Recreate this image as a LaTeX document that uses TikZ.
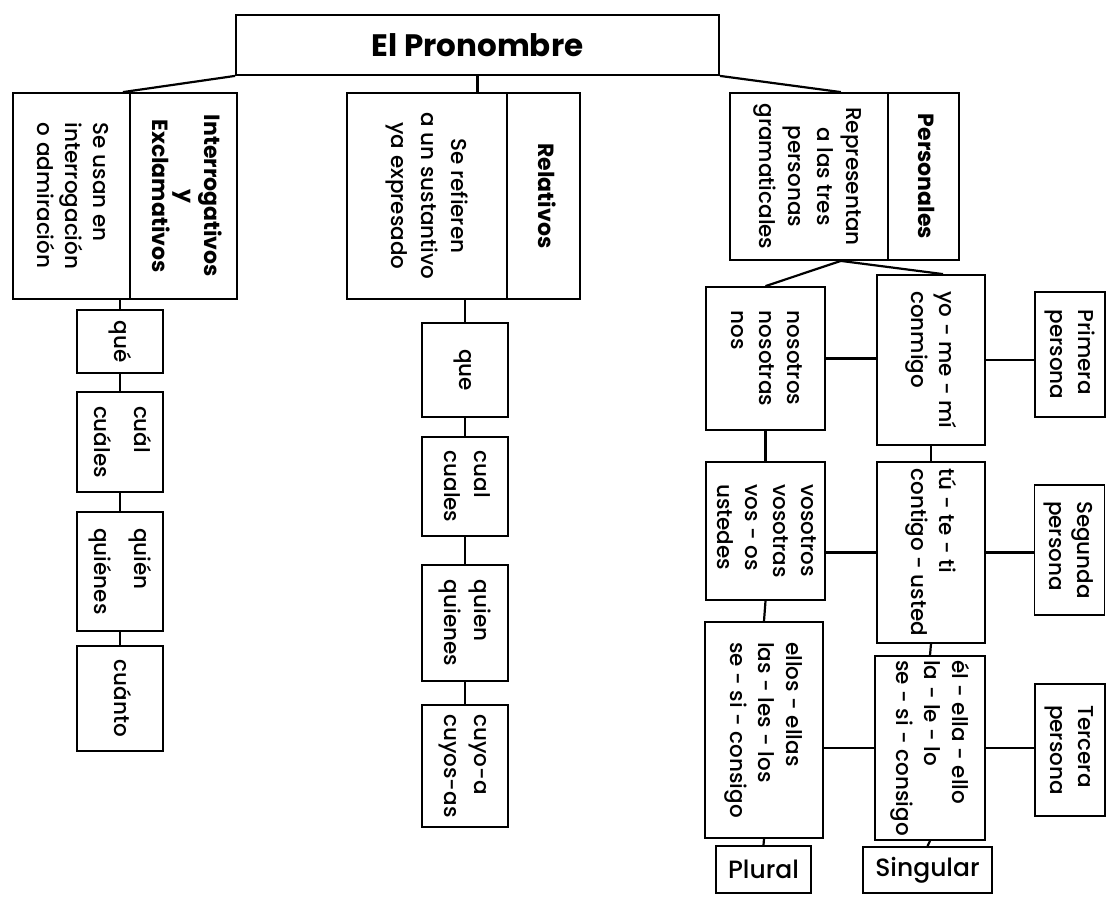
\documentclass[tikz,border=0pt]{standalone}
\usepackage{fontspec}
\setmainfont{Poppins}[UprightFont=* Medium, BoldFont=* Bold]
\usetikzlibrary{calc}
\newcommand{\vt}[2][l]{\rotatebox{-90}{\begin{tabular}{@{}#1@{}}#2\end{tabular}}}
\begin{document}
\begin{tikzpicture}[x=1pt,y=-1pt,
  box/.style={draw, line width=1.8pt, inner sep=0pt, font=\fontsize{21.5}{28}\selectfont},
  hbox/.style={box, font=\fontsize{22}{26}\selectfont\bfseries},
  link/.style={line width=2.2pt}]
\useasboundingbox (0,0) rectangle (1114,905);
% title
\node[box, minimum width=483, minimum height=60, font=\fontsize{31}{34}\selectfont\bfseries] (title) at (477.5,45) {El Pronombre};
% three category boxes
\node[box, minimum width=117, minimum height=206] (lbody) at (71.5,196) {\vt{Se usan en\\interrogación\\o admiración}};
\node[hbox, minimum width=107, minimum height=206] (lhead) at (183.5,196) {\vt[c]{Interrogativos\\y\\Exclamativos}};
\node[box, minimum width=160, minimum height=206] (mbody) at (427,196) {\vt[c]{Se refieren\\[2pt]a un sustantivo\\[2pt]ya expresado}};
\node[hbox, minimum width=73, minimum height=206] (mhead) at (543.5,196) {\vt[c]{Relativos}};
\node[box, minimum width=158, minimum height=167] (rbody) at (809,176.5) {\vt[c]{Representan\\[1pt]a las tres\\[1pt]personas\\[1pt]gramaticales}};
\node[hbox, minimum width=71, minimum height=167] (rhead) at (923.5,176.5) {\vt[c]{Personales}};
% left column
\node[box, minimum width=86, minimum height=63] (lq1) at (120,341.5) {\vt{qué}};
\node[box, minimum width=86, minimum height=100] (lq2) at (120,442) {\vt{cuál\\[12pt]cuáles}};
\node[box, minimum width=86, minimum height=119] (lq3) at (120,571.5) {\vt{quién\\[12pt]quiénes}};
\node[box, minimum width=86, minimum height=105] (lq4) at (120,698.5) {\vt{cuánto}};
% middle column
\node[box, minimum width=86, minimum height=94] (mq1) at (465,370) {\vt{que}};
\node[box, minimum width=86, minimum height=99] (mq2) at (465,486.5) {\vt{cual\\[2pt]cuales}};
\node[box, minimum width=86, minimum height=116] (mq3) at (465,623) {\vt{quien\\[2pt]quienes}};
\node[box, minimum width=86, minimum height=122] (mq4) at (465,766) {\vt{cuyo-a\\[2pt]cuyos-as}};
% right part
\node[box, minimum width=119, minimum height=143] (nos) at (765.5,358.5) {\vt{nosotros\\nosotras\\nos}};
\node[box, minimum width=108, minimum height=170] (yo) at (931,360) {\vt{yo - me - mí\\conmigo}};
\node[box, minimum width=70, minimum height=125] (prim) at (1070,354.5) {\vt{Primera\\persona}};
\node[box, minimum width=119, minimum height=138] (vos) at (765.5,531) {\vt{vosotros\\vosotras\\vos - os\\ustedes}};
\node[box, minimum width=108, minimum height=181] (tu) at (931,552.5) {\vt{tú - te - ti\\contigo - usted}};
\node[box, minimum width=70, minimum height=130] (seg) at (1069.5,550) {\vt{Segunda\\persona}};
\node[box, minimum width=118, minimum height=216] (ellos) at (764,730) {\vt{ellos - ellas\\las - les - los\\se - si - consigo}};
\node[box, minimum width=110, minimum height=184] (el) at (930,748) {\vt{él - ella - ello\\la - le - lo\\se - si - consigo}};
\node[box, minimum width=70, minimum height=132] (terc) at (1070,750) {\vt{Tercera\\persona}};
\node[box, minimum width=95, minimum height=47, font=\fontsize{25}{28}\selectfont] (plur) at (763.5,869.5) {Plural};
\node[box, minimum width=129, minimum height=46, font=\fontsize{25}{28}\selectfont] (sing) at (927.5,870) {Singular};
% connectors
\draw[link] (title.south) -- (title.south |- mbody.north);
\draw[link] (title.south west) -- ($(lbody.north east)+(-8,0)$);
\draw[link] (title.south east) -- ($(rbody.north east)+(-48,0)$);
\draw[link] (lq1.north) -- (lq1.north |- lbody.south);
\draw[link] (lq1.south) -- (lq2.north);
\draw[link] (lq2.south) -- (lq3.north);
\draw[link] (lq3.south) -- (lq4.north);
\draw[link] (mq1.north) -- (mq1.north |- mbody.south);
\draw[link] (mq1.south) -- (mq2.north);
\draw[link] (mq2.south) -- (mq3.north);
\draw[link] (mq3.south) -- (mq4.north);
\coordinate (rfoot) at ($(rbody.south east)+(-48,0)$);
\draw[link] (rfoot) -- (nos.north);
\draw[link] (rfoot) -- ($(yo.north)+(12,0)$);
\draw[link] (nos.east) -- (nos.east -| yo.west);
\draw[link] (yo.east) -- (yo.east -| prim.west);
\draw[link] (nos.south) -- (vos.north);
\draw[link] (yo.south) -- (tu.north);
\draw[link] (tu.west -| vos.east) -- (tu.west);
\draw[link] (tu.east) -- (tu.east -| seg.west);
\draw[link] (vos.south) -- (ellos.north);
\draw[link] (tu.south) -- (el.north);
\draw[link] (el.west -| ellos.east) -- (el.west);
\draw[link] (el.east) -- (el.east -| terc.west);
\draw[link] (ellos.south) -- (plur.north);
\draw[link] (el.south) -- (sing.north);
\end{tikzpicture}
\end{document}
